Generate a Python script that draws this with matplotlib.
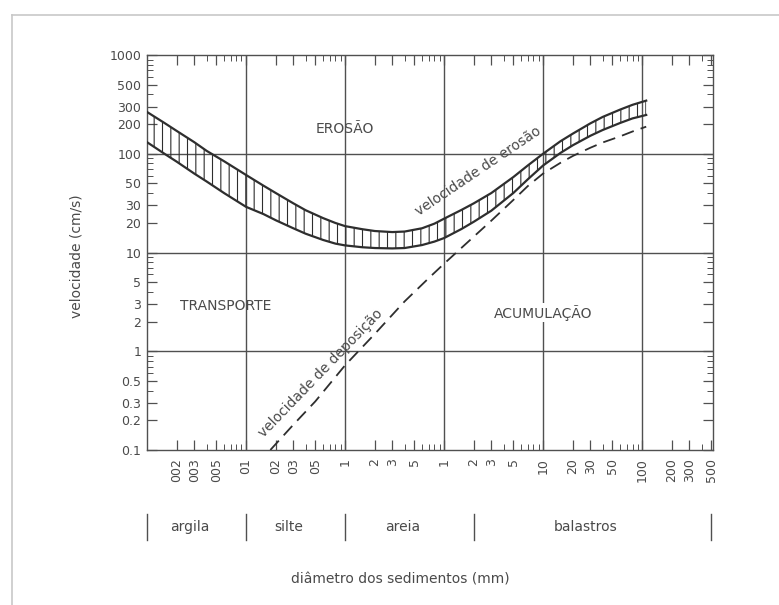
import numpy as np
import matplotlib
matplotlib.use("Agg")
import matplotlib.pyplot as plt
import matplotlib.transforms as mtransforms
from matplotlib.lines import Line2D
from matplotlib.ticker import FixedLocator, FixedFormatter, LogLocator, NullFormatter

diam = [0.001, 0.0015, 0.002, 0.003, 0.004, 0.006, 0.01, 0.015, 0.02, 0.03,
        0.04, 0.06, 0.08, 0.1, 0.15, 0.2, 0.3, 0.4, 0.6, 0.8, 1, 1.5, 2, 3,
        5, 7, 10, 15, 20, 30, 40, 60, 80, 110]
erosao_sup = [265, 205, 170, 131, 107, 84, 61, 47.5, 40, 31.5,
              26.8, 22.3, 19.9, 18.5, 17.2, 16.5, 16.1, 16.3, 17.6, 19.6, 22, 27, 31.5, 40,
              58, 76, 100, 134, 160, 203, 236, 280, 313, 345]
erosao_inf = [131, 100, 83, 63, 52.4, 40, 29, 24.5, 21.2, 17.6,
              15.5, 13.4, 12.3, 11.8, 11.3, 11.1, 11.0, 11.1, 11.9, 12.9, 14, 17.3, 20.5, 26.5,
              40, 55, 76, 102, 122, 152, 174, 205, 228, 247]

dep_diam = [0.0176, 0.03, 0.05, 0.1, 0.2, 0.4, 0.7, 1, 2, 3, 5, 7, 10, 15,
            20, 30, 40, 60, 80, 110]
dep_vel = [0.1, 0.18, 0.31, 0.72, 1.5, 3.2, 5.5, 7.7, 14.5, 21, 34, 47, 63, 81,
           95, 115, 130, 150, 168, 188]

x_ticks = [0.002, 0.003, 0.005, 0.01, 0.02, 0.03, 0.05, 0.1, 0.2, 0.3, 0.5,
           1, 2, 3, 5, 10, 20, 30, 50, 100, 200, 300, 500]
x_labels = ["002", "003", "005", "01", "02", "03", "05", "1", "2", "3", "5",
            "1", "2", "3", "5", "10", "20", "30", "50", "100", "200", "300", "500"]
y_ticks = [0.1, 0.2, 0.3, 0.5, 1, 2, 3, 5, 10, 20, 30, 50, 100, 200, 300, 500, 1000]
y_labels = ["0.1", "0.2", "0.3", "0.5", "1", "2", "3", "5", "10", "20", "30", "50",
            "100", "200", "300", "500", "1000"]

classes = ["argila", "silte", "areia", "balastros"]
class_bounds = [0.001, 0.01, 0.1, 2, 500]

grid_x = [0.01, 0.1, 1, 10, 100]
grid_y = [1, 10, 100]

line_col = "#2e2e2e"
grid_col = "#505050"
text_col = "#4a4a4a"

plt.rcParams["font.family"] = ["DejaVu Sans"]
plt.rcParams["hatch.linewidth"] = 0.8
plt.rcParams["hatch.color"] = line_col

fig = plt.figure(figsize=(7.79, 6.05), dpi=100)
ax = fig.add_axes([147 / 779, 1 - 450 / 605, 566 / 779, 395 / 605])
ax.set_xscale("log")
ax.set_yscale("log")
ax.set_xlim(0.001, 520)
ax.set_ylim(0.1, 1000)

for v in grid_x:
    ax.axvline(v, color=grid_col, lw=1.0, zorder=1)
for v in grid_y:
    ax.axhline(v, color=grid_col, lw=1.0, zorder=1)

# faixa de erosao tracejada
ax.fill_between(diam, erosao_inf, erosao_sup, facecolor="none",
                edgecolor=line_col, hatch="||", linewidth=0, zorder=2)
ax.plot(diam, erosao_sup, color=line_col, lw=1.6, zorder=3)
ax.plot(diam, erosao_inf, color=line_col, lw=1.6, zorder=3)
ax.plot(dep_diam, dep_vel, color=line_col, lw=1.3, ls=(0, (7, 4)), zorder=3)

# eixos
for s in ax.spines.values():
    s.set_color(grid_col)
    s.set_linewidth(1.0)
ax.xaxis.set_major_locator(FixedLocator(x_ticks))
ax.xaxis.set_major_formatter(FixedFormatter(x_labels))
ax.xaxis.set_minor_locator(LogLocator(base=10, subs=np.arange(2, 10)))
ax.xaxis.set_minor_formatter(NullFormatter())
ax.yaxis.set_major_locator(FixedLocator(y_ticks))
ax.yaxis.set_major_formatter(FixedFormatter(y_labels))
ax.yaxis.set_minor_locator(LogLocator(base=10, subs=np.arange(2, 10)))
ax.yaxis.set_minor_formatter(NullFormatter())
ax.tick_params(which="both", direction="in", top=True, right=True,
               color=grid_col, labelcolor=text_col)
ax.tick_params(which="major", length=7, width=0.9, labelsize=9)
ax.tick_params(which="minor", length=4, width=0.7)
ax.tick_params(axis="x", which="major", labelrotation=90, pad=6)
ax.tick_params(axis="y", which="major", pad=4)

ax.set_ylabel("velocidade (cm/s)", fontsize=10, color=text_col)
ax.yaxis.set_label_coords(-0.112, 0.49)
ax.text(0.447, -0.328, "diâmetro dos sedimentos (mm)", transform=ax.transAxes,
        ha="center", va="center", fontsize=10, color=text_col)

# rotulos das zonas
ax.text(0.1, 180, "EROSÃO", ha="center", va="center", fontsize=10, color=text_col)
ax.text(0.0062, 2.9, "TRANSPORTE", ha="center", va="center", fontsize=10, color=text_col)
ax.text(10, 2.45, "ACUMULAÇÃO", ha="center", va="center", fontsize=10, color=text_col,
        bbox=dict(facecolor="white", edgecolor="none", pad=1))
ax.text(2.2, 66, "velocidade de erosão", rotation=34, rotation_mode="anchor",
        ha="center", va="center", fontsize=10, color=text_col, zorder=4)
ax.text(0.057, 0.6, "velocidade de deposição", rotation=46, rotation_mode="anchor",
        ha="center", va="center", fontsize=10, color=text_col, zorder=4)

# classes granulometricas
trans = mtransforms.blended_transform_factory(ax.transData, ax.transAxes)
for b in class_bounds:
    ax.plot([b, b], [-0.162, -0.228], transform=trans, clip_on=False,
            color=grid_col, lw=1.0)
for name, lo, hi in zip(classes, class_bounds[:-1], class_bounds[1:]):
    ax.text(np.sqrt(lo * hi) * 0.85, -0.195, name, transform=trans,
            ha="center", va="center", fontsize=10, color=text_col)

# moldura exterior
fig.add_artist(Line2D([12 / 779, 12 / 779], [0, 1 - 15 / 605],
                      transform=fig.transFigure, color="#c8c8c8", lw=1.2))
fig.add_artist(Line2D([12 / 779, 1], [1 - 15 / 605, 1 - 15 / 605],
                      transform=fig.transFigure, color="#c8c8c8", lw=1.2))

fig.savefig("out.png", dpi=100, facecolor="white")
